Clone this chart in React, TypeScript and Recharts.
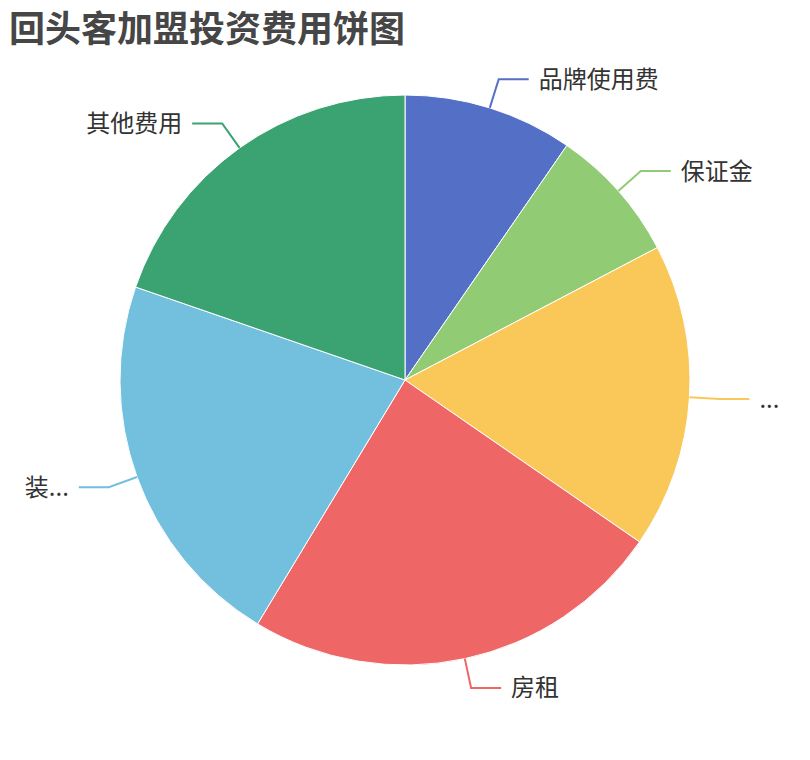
import React from "react";
import { Cell, Pie, PieChart } from "recharts";

const labels = ["品牌使用费", "保证金", "...", "房租", "装...", "其他费用"];
const values = [10000, 8000, 18000, 25000, 22500, 20500];
const colors = ["#5470c6", "#91cc75", "#fac858", "#ee6666", "#73c0de", "#3ba272"];

const data = labels.map((name, i) => ({ name, value: values[i] }));

const RAD = Math.PI / 180;
const FONT = '"Noto Sans CJK SC", "Noto Sans", sans-serif';

function renderLabel(props: any) {
  const { cx, cy, midAngle, outerRadius, index } = props;
  const cos = Math.cos(-midAngle * RAD);
  const sin = Math.sin(-midAngle * RAD);
  const x0 = cx + outerRadius * cos;
  const y0 = cy + outerRadius * sin;
  const x1 = cx + (outerRadius + 30) * cos;
  const y1 = cy + (outerRadius + 30) * sin;
  const right = cos >= 0;
  const x2 = x1 + (right ? 30 : -30);
  const color = colors[index];
  return (
    <g key={`lbl-${index}`}>
      <polyline
        points={`${x0},${y0} ${x1},${y1} ${x2},${y1}`}
        fill="none"
        stroke={color}
        strokeWidth={2}
      />
      <text
        x={x2 + (right ? 10 : -10)}
        y={y1 - 2}
        textAnchor={right ? "start" : "end"}
        dominantBaseline="central"
        fill="#333"
        fontSize={24}
        fontFamily={FONT}
      >
        {labels[index]}
      </text>
    </g>
  );
}

export default function App() {
  return (
    <div style={{ position: "absolute", left: 0, top: 0, width: 810, height: 760, background: "#fff" }}>
      <PieChart width={810} height={760} margin={{ top: 0, right: 0, bottom: 0, left: 0 }}>
        <Pie
          data={data}
          dataKey="value"
          nameKey="name"
          cx={405}
          cy={380}
          outerRadius={285}
          startAngle={90}
          endAngle={-270}
          label={renderLabel}
          labelLine={false}
          stroke="#fff"
          strokeWidth={1}
          isAnimationActive={false}
        >
          {data.map((d, i) => (
            <Cell key={d.name} fill={colors[i]} />
          ))}
        </Pie>
      </PieChart>
      <div
        style={{
          position: "absolute",
          left: 9,
          top: 4,
          fontFamily: FONT,
          fontWeight: 700,
          fontSize: 36,
          lineHeight: "44px",
          color: "#464646",
          whiteSpace: "nowrap",
        }}
      >
        回头客加盟投资费用饼图
      </div>
    </div>
  );
}
